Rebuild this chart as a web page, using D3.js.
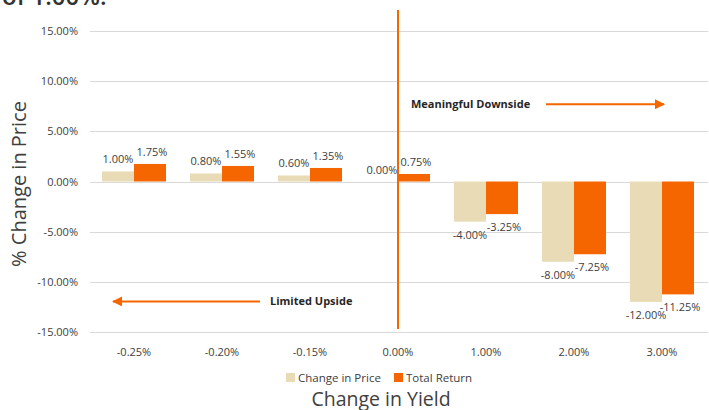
<!DOCTYPE html>
<html>
<head>
<meta charset="utf-8">
<script src="https://cdn.jsdelivr.net/npm/d3@7"></script>
<style>
  body { margin: 0; background: #fff; }
  svg { font-family: "Open Sans", sans-serif; }
</style>
</head>
<body>
<svg id="chart"></svg>
<script>
var categories = ["-0.25%", "-0.20%", "-0.15%", "0.00%", "1.00%", "2.00%", "3.00%"];
var priceChange = [1.0, 0.8, 0.6, 0.0, -4.0, -8.0, -12.0];
var totalReturn = [1.75, 1.55, 1.35, 0.75, -3.25, -7.25, -11.25];
var yTicks = [15, 10, 5, 0, -5, -10, -15];
var seriesNames = ["Change in Price", "Total Return"];
var seriesColors = ["#E8DBB5", "#F56600"];

var width = 709, height = 410;
var svg = d3.select("#chart").attr("width", width).attr("height", height);

// plain hyphen minus, like the source chart
var pct = d3.formatLocale({ decimal: ".", thousands: ",", grouping: [3], currency: ["", ""], minus: "-" }).format(".2f");

var x = d3.scaleBand().domain(categories).range([90, 706]);
var sub = d3.scaleBand().domain([0, 1]).range([12, x.bandwidth() - 12]);
var y = d3.scaleLinear().domain([-15, 15]).range([332, 31]);

// title fragment cut at top
svg.append("text")
  .attr("x", 2).attr("y", 5)
  .style("font-size", "24px").style("font-weight", "600")
  .attr("fill", "#333")
  .text("of 1.00%.");

// gridlines
svg.append("g").selectAll("line")
  .data(yTicks).enter().append("line")
  .attr("x1", 90).attr("x2", 708)
  .attr("y1", function (d) { return Math.round(y(d)) + 0.5; })
  .attr("y2", function (d) { return Math.round(y(d)) + 0.5; })
  .attr("stroke", "#d9d9d9").attr("stroke-width", 1);

// y tick labels
svg.append("g").selectAll("text")
  .data(yTicks).enter().append("text")
  .attr("x", 78)
  .attr("y", function (d) { return y(d) + 4; })
  .attr("text-anchor", "end")
  .style("font-size", "11px")
  .attr("fill", "#404040")
  .text(function (d) { return pct(d) + "%"; });

// x tick labels
svg.append("g").selectAll("text")
  .data(categories).enter().append("text")
  .attr("x", function (d) { return x(d) + x.bandwidth() / 2; })
  .attr("y", 356)
  .attr("text-anchor", "middle")
  .style("font-size", "11px")
  .attr("fill", "#404040")
  .text(function (d) { return d; });

var rows = categories.map(function (c, i) {
  return { cat: c, vals: [priceChange[i], totalReturn[i]] };
});

var groups = svg.append("g").selectAll("g")
  .data(rows).enter().append("g")
  .attr("transform", function (d) { return "translate(" + x(d.cat) + ",0)"; });

groups.selectAll("rect")
  .data(function (d) { return d.vals.map(function (v, k) { return { k: k, v: v }; }); })
  .enter().append("rect")
  .attr("x", function (d) { return sub(d.k); })
  .attr("width", sub.bandwidth())
  .attr("y", function (d) { return y(Math.max(0, d.v)); })
  .attr("height", function (d) { return Math.abs(y(d.v) - y(0)); })
  .attr("fill", function (d) { return seriesColors[d.k]; });

groups.selectAll("text")
  .data(function (d) { return d.vals.map(function (v, k) { return { k: k, v: v }; }); })
  .enter().append("text")
  .attr("x", function (d) { return sub(d.k) + sub.bandwidth() / 2 + (d.k === 1 ? 2 : 0); })
  .attr("y", function (d) { return d.v >= 0 ? y(d.v) - 8 : y(d.v) + 17; })
  .attr("text-anchor", "middle")
  .style("font-size", "11px")
  .attr("fill", "#404040")
  .text(function (d) { return pct(d.v) + "%"; });

// divider line at 0.00%
var divX = x("0.00%") + x.bandwidth() / 2;
svg.append("line")
  .attr("x1", divX).attr("x2", divX)
  .attr("y1", y(17.1)).attr("y2", y(-14.7))
  .attr("stroke", "#F56600").attr("stroke-width", 2);

// arrows
var defs = svg.append("defs");
defs.append("marker")
  .attr("id", "arrow")
  .attr("viewBox", "0 0 10 10")
  .attr("refX", 9).attr("refY", 5)
  .attr("markerWidth", 5).attr("markerHeight", 5)
  .attr("orient", "auto")
  .append("path").attr("d", "M0,0L10,5L0,10z").attr("fill", "#F56600");

svg.append("line")
  .attr("x1", 546).attr("x2", 664)
  .attr("y1", y(7.7)).attr("y2", y(7.7))
  .attr("stroke", "#F56600").attr("stroke-width", 2)
  .attr("marker-end", "url(#arrow)");
svg.append("text")
  .attr("x", 411).attr("y", y(7.7) + 4)
  .style("font-size", "11px").style("font-weight", "bold")
  .attr("fill", "#262626")
  .text("Meaningful Downside");

svg.append("line")
  .attr("x1", 260).attr("x2", 113)
  .attr("y1", y(-11.95)).attr("y2", y(-11.95))
  .attr("stroke", "#F56600").attr("stroke-width", 2)
  .attr("marker-end", "url(#arrow)");
svg.append("text")
  .attr("x", 270).attr("y", y(-11.95) + 4)
  .style("font-size", "11px").style("font-weight", "bold")
  .attr("fill", "#262626")
  .text("Limited Upside");

// legend
var legend = svg.append("g");
var legX = [286, 394];
seriesNames.forEach(function (name, i) {
  legend.append("rect")
    .attr("x", legX[i]).attr("y", 373)
    .attr("width", 9).attr("height", 9)
    .attr("fill", seriesColors[i]);
  legend.append("text")
    .attr("x", legX[i] + 12).attr("y", 382)
    .style("font-size", "11.5px")
    .attr("fill", "#404040")
    .text(name);
});

// axis titles
svg.append("text")
  .attr("x", 381).attr("y", 406)
  .attr("text-anchor", "middle")
  .style("font-size", "19.5px")
  .attr("fill", "#404040")
  .text("Change in Yield");

svg.append("text")
  .attr("text-anchor", "middle")
  .attr("transform", "translate(26,184)rotate(-90)")
  .style("font-size", "20px")
  .attr("fill", "#404040")
  .text("% Change in Price");
</script>
</body>
</html>
